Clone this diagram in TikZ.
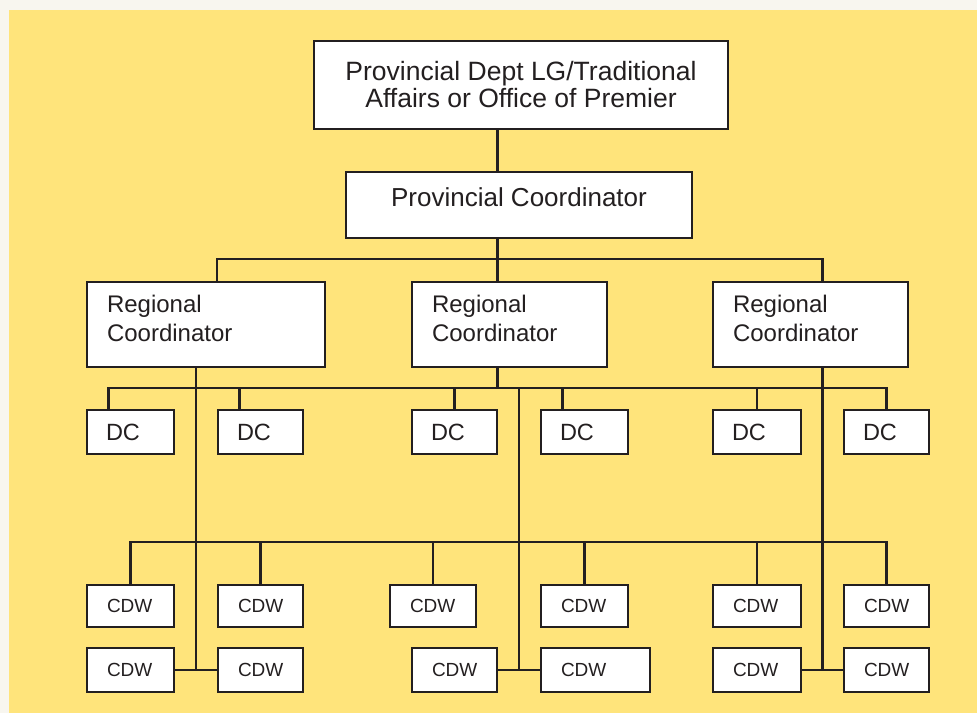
\documentclass[tikz,border=0pt]{standalone}
\usepackage{fontspec}
\setmainfont{Liberation Sans}
\usetikzlibrary{positioning,calc}
\definecolor{ink}{HTML}{231F20}
\definecolor{paper}{HTML}{F8F6EF}
\definecolor{sun}{HTML}{FFE47B}

\begin{document}
\begin{tikzpicture}[x=1pt, y=-1pt
    , org line/.style={draw=ink, line width=2.9pt}
    , org box/.style={draw=ink, line width=2.9pt, fill=white, text=ink, inner sep=0pt}
    , wide box/.style={org box, align=center, font=\fontsize{26.5}{27}\selectfont}
    , rc box/.style={org box, align=left, inner xsep=20pt, minimum height=85pt, text depth=41pt, font=\fontsize{24}{29}\selectfont}
    , dc box/.style={org box, align=left, inner xsep=19pt, minimum height=44pt, font=\fontsize{23.5}{28}\selectfont}
    , cdw box/.style={org box, align=left, inner xsep=20pt, font=\fontsize{19}{23}\selectfont}
    ]
    \useasboundingbox (0,0) rectangle (977,713);
    \fill[paper] (0,0) rectangle (977,713);
    \fill[sun] (9,10) rectangle (977,713);

    % top of the chart
    \node[wide box, minimum width=414pt, minimum height=88pt] (dept) at (521,85)
      {Provincial Dept LG/Traditional\\Affairs or Office of Premier};
    \node[wide box, font=\fontsize{26}{27}\selectfont, minimum width=346pt, minimum height=66pt, text depth=16pt] (prov) at (519,205)
      {Provincial Coordinator};

    \node[rc box, text width=198pt] (rc1) at (206,324.5) {Regional\\Coordinator};
    \node[rc box, text width=155pt] (rc2) at (509.5,324.5) {Regional\\Coordinator};
    \node[rc box, text width=155pt] (rc3) at (810.5,324.5) {Regional\\Coordinator};

    % district coordinators
    \node[dc box, text width=49pt] (dc1) at (130.5,432) {DC};
    \node[dc box, text width=47pt] (dc2) at (260.5,432) {DC};
    \node[dc box, text width=47pt] (dc3) at (454.5,432) {DC};
    \node[dc box, text width=49pt] (dc4) at (584.5,432) {DC};
    \node[dc box, text width=50pt] (dc5) at (757,432) {DC};
    \node[dc box, text width=47pt] (dc6) at (886.5,432) {DC};

    % community development workers
    \node[cdw box, minimum height=42pt, text width=47pt] (cdw1) at (130.5,606) {CDW};
    \node[cdw box, minimum height=42pt, text width=45pt] (cdw2) at (260.5,606) {CDW};
    \node[cdw box, minimum height=42pt, text width=46pt] (cdw3) at (433,606) {CDW};
    \node[cdw box, minimum height=42pt, text width=47pt] (cdw4) at (584.5,606) {CDW};
    \node[cdw box, minimum height=42pt, text width=48pt] (cdw5) at (757,606) {CDW};
    \node[cdw box, minimum height=42pt, text width=45pt] (cdw6) at (886.5,606) {CDW};
    \node[cdw box, minimum height=44pt, text width=47pt] (cdw7) at (130.5,670) {CDW};
    \node[cdw box, minimum height=44pt, text width=45pt] (cdw8) at (260.5,670) {CDW};
    \node[cdw box, minimum height=44pt, text width=45pt] (cdw9) at (454.5,670) {CDW};
    \node[cdw box, minimum height=44pt, text width=69pt] (cdw10) at (595.5,670) {CDW};
    \node[cdw box, minimum height=44pt, text width=48pt] (cdw11) at (757,670) {CDW};
    \node[cdw box, minimum height=44pt, text width=45pt] (cdw12) at (886.5,670) {CDW};

    \coordinate (spine) at (497.5,259);
    \coordinate (dc bus) at (0,388);
    \coordinate (cdw bus) at (0,542);
    \coordinate (tail1) at ($(cdw7.east)!.5!(cdw8.west)$);
    \coordinate (tail2) at ($(cdw9.east)!.5!(cdw10.west)$);
    \coordinate (tail3) at ($(cdw11.east)!.5!(cdw12.west)$);

    % provincial level
    \draw[org line] (spine |- dept.south) -- (spine |- prov.north);
    \draw[org line] (spine |- prov.south) -- (spine);
    \draw[org line] ([xshift=11pt]rc1.north) |- (spine) -| ([xshift=12pt]rc3.north);
    \draw[org line] (spine) -- (spine |- rc2.north);

    % regional level
    \draw[org line] (tail1 |- rc1.south) -- (tail1);
    \draw[org line] (spine |- rc2.south) -- (spine |- dc bus);
    \draw[org line] (tail2 |- dc bus) -- (tail2);
    \draw[org line] (tail3 |- rc3.south) -- (tail3);

    \draw[org line] ([xshift=-22pt]dc1.north) |- (dc bus -| dc6.north) -- (dc6.north);
    \draw[org line] ([xshift=-21pt]dc2.north) -- ([xshift=-21pt]dc2.north |- dc bus);
    \draw[org line] (dc3.north) -- (dc3.north |- dc bus);
    \draw[org line] ([xshift=-22pt]dc4.north) -- ([xshift=-22pt]dc4.north |- dc bus);
    \draw[org line] (dc5.north) -- (dc5.north |- dc bus);

    % worker level
    \draw[org line] (cdw1.north) |- (cdw bus -| cdw6.north) -- (cdw6.north);
    \draw[org line] (cdw2.north) -- (cdw2.north |- cdw bus);
    \draw[org line] (cdw3.north) -- (cdw3.north |- cdw bus);
    \draw[org line] (cdw4.north) -- (cdw4.north |- cdw bus);
    \draw[org line] (cdw5.north) -- (cdw5.north |- cdw bus);
    \draw[org line] (cdw7.east) -- (cdw8.west);
    \draw[org line] (cdw9.east) -- (cdw10.west);
    \draw[org line] (cdw11.east) -- (cdw12.west);
  \end{tikzpicture}
\end{document}
